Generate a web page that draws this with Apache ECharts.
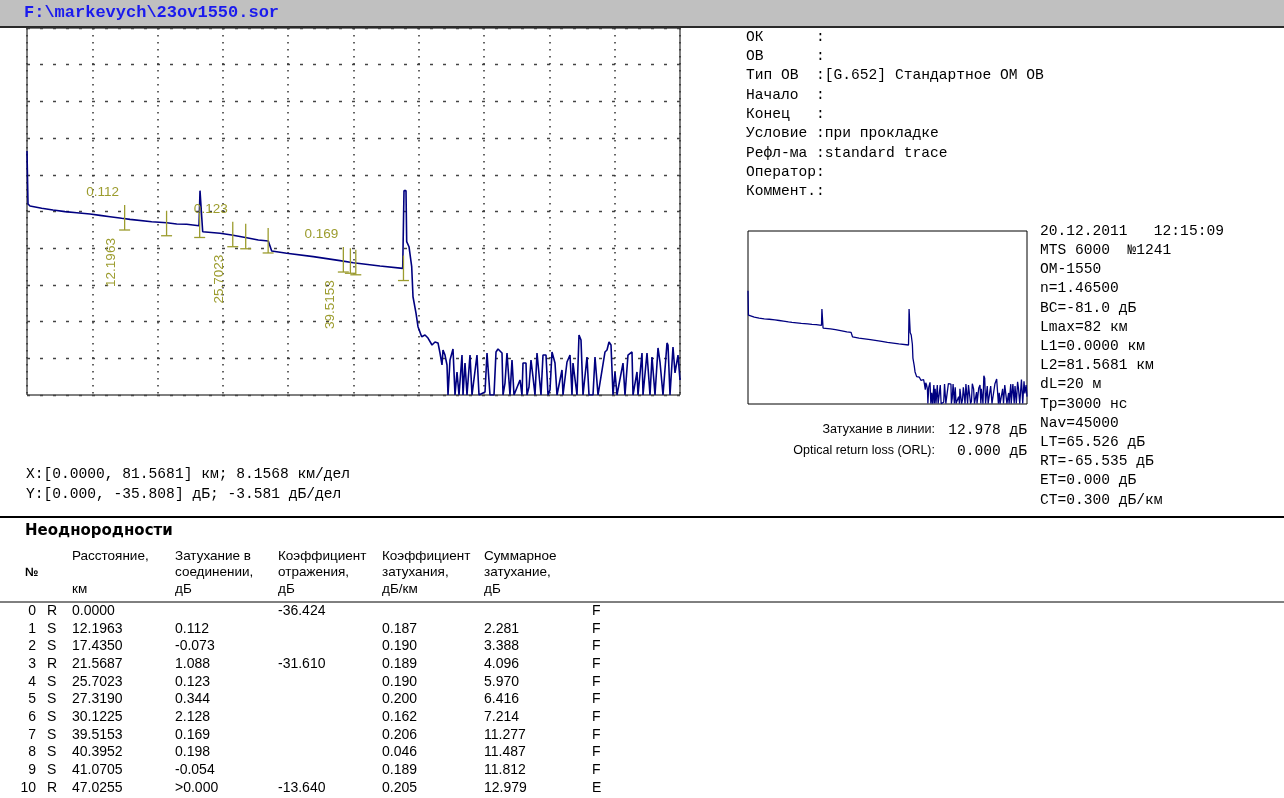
<!DOCTYPE html>
<html>
<head>
<meta charset="utf-8">
<title>23ov1550.sor</title>
<script src="https://cdn.jsdelivr.net/npm/echarts@6/dist/echarts.min.js"></script>
<style>
  html, body { margin: 0; padding: 0; background: #fff; }
  #chart { width: 1284px; height: 798px; }
</style>
</head>
<body>
<div id="chart"></div>
<script>
// trace: distance (km) and level (dB)
const traceKm = [
  0, 0.125, 0.375, 1.836, 3.248, 4.747, 6.208, 7.870, 9.119, 10.368, 11.829, 12.867,
  15.577, 17.451, 18.700, 19.949, 21.485, 21.610, 21.822, 21.947, 24.108, 25.570,
  27.443, 28.892, 30.141, 30.566, 32.439, 35.762, 39.098, 40.759, 44.094, 46.930,
  47.092, 47.342, 47.429, 47.717, 48.054, 48.216, 48.591, 48.841, 49.303, 49.466,
  49.716, 50.090, 50.590, 50.965, 51.340, 51.589, 51.839, 51.964, 52.214, 52.464,
  52.589, 52.839, 53.213, 53.463, 53.713, 53.963, 54.338, 54.463, 54.713, 54.962,
  55.337, 55.587, 56.211, 56.461, 57.211, 57.461, 57.585, 57.835, 58.335, 58.585,
  58.834, 59.334, 59.459, 59.708, 59.958, 60.333, 60.583, 60.833, 61.582, 61.832,
  61.957, 62.331, 62.456, 62.706, 62.956, 63.206, 63.456, 63.706, 63.955, 64.205,
  64.455, 64.830, 65.080, 65.330, 65.579, 65.954, 66.204, 66.829, 66.953, 67.453,
  67.828, 68.077, 68.202, 68.702, 68.952, 69.202, 69.452, 69.951, 70.201, 70.701,
  70.951, 71.326, 72.200, 72.450, 72.700, 72.950, 73.199, 73.449, 73.699, 74.449,
  74.698, 75.073, 75.573, 75.698, 76.197, 76.322, 76.822, 76.947, 77.446, 77.821,
  78.071, 78.446, 78.820, 79.070, 79.445, 79.945, 80.069, 80.319, 80.694, 80.944,
  81.319, 81.568
];
const traceDb = [
  -12.00, -17.17, -17.37, -17.59, -17.76, -17.92, -18.02, -18.15, -18.28, -18.41, -18.57, -18.67,
  -18.90, -19.00, -19.12, -19.15, -19.29, -15.87, -15.87, -19.88, -20.03, -20.20,
  -20.46, -20.69, -20.78, -21.76, -21.98, -22.31, -22.70, -22.90, -23.22, -23.45,
  -15.87, -15.87, -20.85, -21.34, -23.29, -26.22, -27.81, -29.14, -30.12, -30.25,
  -29.95, -30.25, -30.93, -30.64, -30.73, -31.71, -32.88, -31.42, -31.91, -32.88,
  -35.81, -32.39, -31.32, -35.81, -33.56, -35.81, -31.91, -35.81, -32.69, -35.81,
  -31.91, -35.81, -31.91, -35.81, -35.52, -31.71, -31.61, -35.81, -35.81, -31.61,
  -31.32, -31.71, -35.81, -34.64, -31.71, -35.81, -32.39, -35.81, -34.34, -35.81,
  -32.69, -32.69, -35.81, -35.03, -32.39, -34.05, -35.81, -31.71, -31.61, -35.81,
  -31.91, -31.91, -35.81, -35.32, -31.61, -32.69, -35.81, -33.37, -35.81, -32.59,
  -31.91, -35.81, -32.69, -35.81, -29.95, -30.44, -35.81, -32.10, -35.81, -35.81,
  -32.10, -35.81, -31.61, -31.42, -30.64, -30.93, -35.81, -33.56, -35.81, -32.69,
  -35.81, -31.91, -31.61, -35.81, -33.56, -35.81, -31.71, -35.81, -31.71, -35.81,
  -32.10, -35.81, -31.22, -32.59, -35.81, -30.73, -30.93, -35.81, -31.13, -33.66,
  -31.91, -34.34
];

// Неоднородности
const eventNo = [0, 1, 2, 3, 4, 5, 6, 7, 8, 9, 10];
const eventType = ['R', 'S', 'S', 'R', 'S', 'S', 'S', 'S', 'S', 'S', 'R'];
const eventDist = [0.0000, 12.1963, 17.4350, 21.5687, 25.7023, 27.3190, 30.1225, 39.5153, 40.3952, 41.0705, 47.0255];
const eventLoss = ['', '0.112', '-0.073', '1.088', '0.123', '0.344', '2.128', '0.169', '0.198', '-0.054', '>0.000'];
const eventRefl = ['-36.424', '', '', '-31.610', '', '', '', '', '', '', '-13.640'];
const eventAtten = ['', '0.187', '0.190', '0.189', '0.190', '0.200', '0.162', '0.206', '0.046', '0.189', '0.205'];
const eventTotal = ['', '2.281', '3.388', '4.096', '5.970', '6.416', '7.214', '11.277', '11.487', '11.812', '12.979'];
const eventFlag = ['F', 'F', 'F', 'F', 'F', 'F', 'F', 'F', 'F', 'F', 'E'];
// trace level at the marker of events 1..10
const markerDb = [-18.49, -19.05, -19.22, -20.12, -20.32, -20.73, -22.59, -22.71, -22.86, -23.42];
const labelledEvents = [1, 4, 7];

const xRange = [0, 81.5681];
const yRange = [-35.808, 0];

const infoLines = [
  'ОК      :',
  'ОВ      :',
  'Тип ОВ  :[G.652] Стандартное ОМ ОВ',
  'Начало  :',
  'Конец   :',
  'Условие :при прокладке',
  'Рефл-ма :standard trace',
  'Оператор:',
  'Коммент.:'
];
const instrLines = [
  '20.12.2011   12:15:09',
  'MTS 6000  №1241',
  'ОМ-1550',
  'n=1.46500',
  'BC=-81.0 дБ',
  'Lmax=82 км',
  'L1=0.0000 км',
  'L2=81.5681 км',
  'dL=20 м',
  'Tp=3000 нс',
  'Nav=45000',
  'LT=65.526 дБ',
  'RT=-65.535 дБ',
  'ET=0.000 дБ',
  'CT=0.300 дБ/км'
];
const scaleLines = [
  'X:[0.0000, 81.5681] км; 8.1568 км/дел',
  'Y:[0.000, -35.808] дБ; -3.581 дБ/дел'
];
const summaryLabels = ['Затухание в линии:', 'Optical return loss (ORL):'];
const summaryValues = ['12.978 дБ', '0.000 дБ'];
const headerCols = [
  ['Расстояние,', '', 'км'],
  ['Затухание в', 'соединении,', 'дБ'],
  ['Коэффициент', 'отражения,', 'дБ'],
  ['Коэффициент', 'затухания,', 'дБ/км'],
  ['Суммарное', 'затухание,', 'дБ']
];

const OLIVE = '#9c9c2e';
const NAVY = '#000080';
const MONO = '14.6px "Liberation Mono", monospace';
const SANS = '13.5px "Liberation Sans", Arial, sans-serif';
const NARROW = '14px "Liberation Sans Narrow", "Liberation Sans", sans-serif';

function txt(x, y, s, font, extra) {
  return {
    type: 'text', x: x, y: y, silent: true,
    style: Object.assign({
      text: s, font: font, fill: '#000',
      align: 'left', textAlign: 'left',
      verticalAlign: 'middle', textVerticalAlign: 'middle'
    }, extra || {})
  };
}
function hline(x1, x2, y, w, color) {
  return { type: 'line', silent: true, shape: { x1: x1, y1: y, x2: x2, y2: y }, style: { stroke: color || '#000', lineWidth: w } };
}

const graphics = [];
// title bar
graphics.push({ type: 'rect', silent: true, shape: { x: 0, y: 0, width: 1284, height: 26 }, style: { fill: '#c0c0c0' } });
graphics.push(hline(0, 1284, 27, 2, '#2a2a2a'));
graphics.push(txt(24, 13, 'F:\\markevych\\23ov1550.sor', 'bold 17px "Liberation Mono", monospace', { fill: '#1a1aee' }));

infoLines.forEach((s, i) => graphics.push(txt(746, 37 + i * 19.3, s, MONO)));
instrLines.forEach((s, i) => graphics.push(txt(1040, 231 + i * 19.2, s, MONO)));
scaleLines.forEach((s, i) => graphics.push(txt(26, 474 + i * 20, s, MONO)));
summaryLabels.forEach((s, i) => {
  graphics.push(txt(935, 430 + i * 21, s, '12.5px "Liberation Sans", Arial, sans-serif', { align: 'right', textAlign: 'right' }));
  graphics.push(txt(1027, 430 + i * 21, summaryValues[i], MONO, { align: 'right', textAlign: 'right' }));
});

// event table
graphics.push(hline(0, 1284, 517, 2));
graphics.push(txt(25, 531, 'Неоднородности', 'bold 15px "DejaVu Sans", sans-serif'));
graphics.push(txt(25, 573, '№', 'bold 12px "Liberation Sans", sans-serif'));
const colX = [72, 175, 278, 382, 484];
headerCols.forEach((col, c) => {
  col.forEach((s, r) => { if (s) graphics.push(txt(colX[c], 556 + r * 16.5, s, SANS)); });
});
graphics.push(hline(0, 1284, 602, 1));
eventNo.forEach((n, i) => {
  const y = 611 + i * 17.7;
  const cells = [eventDist[i].toFixed(4), eventLoss[i], eventRefl[i], eventAtten[i], eventTotal[i]];
  graphics.push(txt(36, y, String(n), NARROW, { align: 'right', textAlign: 'right' }));
  graphics.push(txt(47, y, eventType[i], NARROW));
  cells.forEach((s, c) => { if (s) graphics.push(txt(colX[c], y, s, NARROW)); });
  graphics.push(txt(592, y, eventFlag[i], NARROW));
});

const traceData = traceKm.map((x, i) => [x, traceDb[i]]);
const markerData = markerDb.map((v, i) => [eventDist[i + 1], v, i + 1]);

const chart = echarts.init(document.getElementById('chart'));
chart.setOption({
  animation: false,
  backgroundColor: '#fff',
  grid: [
    { left: 27, top: 28, width: 653, height: 367, show: true, borderColor: '#000', borderWidth: 1, backgroundColor: '#fff' },
    { left: 748, top: 231, width: 279, height: 173, show: true, borderColor: '#000', borderWidth: 1, backgroundColor: '#fff' }
  ],
  xAxis: [
    {
      gridIndex: 0, type: 'value', min: xRange[0], max: xRange[1], interval: 8.15681,
      axisLine: { show: false }, axisTick: { show: false }, axisLabel: { show: false },
      splitLine: { show: true, lineStyle: { color: '#333', width: 1.5, type: [1.5, 5.5] } }
    },
    {
      gridIndex: 1, type: 'value', min: xRange[0], max: xRange[1],
      axisLine: { show: false }, axisTick: { show: false }, axisLabel: { show: false }, splitLine: { show: false }
    }
  ],
  yAxis: [
    {
      gridIndex: 0, type: 'value', min: yRange[0], max: yRange[1], interval: 3.5808,
      axisLine: { show: false }, axisTick: { show: false }, axisLabel: { show: false },
      splitLine: { show: true, lineStyle: { color: '#444', width: 1.3, type: [3, 10] } }
    },
    {
      gridIndex: 1, type: 'value', min: -35.9, max: 0.6,
      axisLine: { show: false }, axisTick: { show: false }, axisLabel: { show: false }, splitLine: { show: false }
    }
  ],
  series: [
    {
      type: 'line', xAxisIndex: 0, yAxisIndex: 0, data: traceData,
      showSymbol: false, clip: true, z: 3,
      lineStyle: { color: NAVY, width: 1.6 }
    },
    {
      type: 'line', xAxisIndex: 1, yAxisIndex: 1, data: traceData,
      showSymbol: false, clip: true, z: 3,
      lineStyle: { color: NAVY, width: 1.3 }
    },
    {
      // event markers with loss / distance labels
      type: 'custom', xAxisIndex: 0, yAxisIndex: 0, data: markerData, z: 4,
      renderItem: function (params, api) {
        const p = api.coord([api.value(0), api.value(1)]);
        const idx = api.value(2);
        const st = { stroke: OLIVE, lineWidth: 1.3 };
        const children = [
          { type: 'line', shape: { x1: p[0], y1: p[1] - 12.5, x2: p[0], y2: p[1] + 12.5 }, style: st },
          { type: 'line', shape: { x1: p[0] - 5.5, y1: p[1] + 12.5, x2: p[0] + 5.5, y2: p[1] + 12.5 }, style: st }
        ];
        if (labelledEvents.indexOf(idx) >= 0) {
          children.push({
            type: 'text', x: p[0] - 22, y: p[1] - 25,
            style: { text: eventLoss[idx], fill: OLIVE, font: '13.5px "Liberation Sans", sans-serif',
              align: 'center', textAlign: 'center', verticalAlign: 'middle', textVerticalAlign: 'middle' }
          });
          children.push({
            type: 'text', x: p[0] - 13, y: p[1] + 45, rotation: Math.PI / 2,
            style: { text: eventDist[idx].toFixed(4), fill: OLIVE, font: '13.5px "Liberation Sans Narrow", "Liberation Sans", sans-serif',
              align: 'center', textAlign: 'center', verticalAlign: 'middle', textVerticalAlign: 'middle' }
          });
        }
        return { type: 'group', children: children };
      }
    }
  ],
  graphic: graphics
});
</script>
</body>
</html>
